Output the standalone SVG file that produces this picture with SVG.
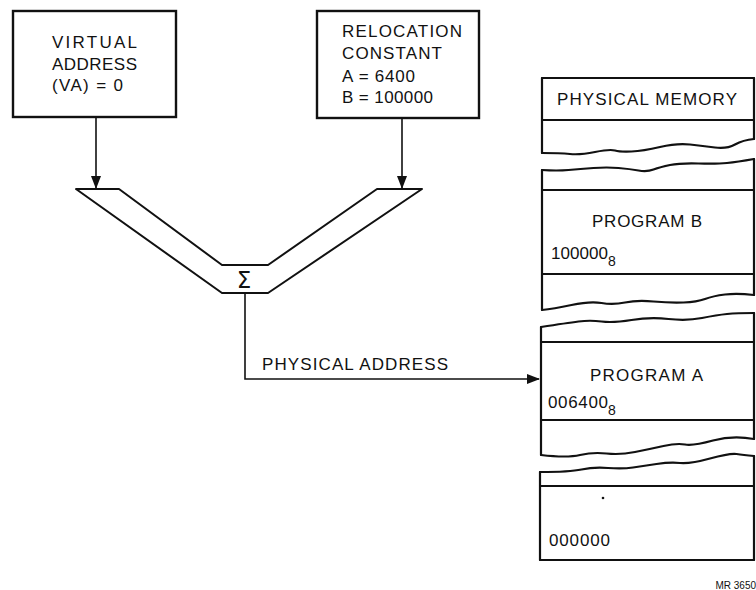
<svg xmlns="http://www.w3.org/2000/svg" width="756" height="590" viewBox="0 0 756 590">
<defs>
<style>
.t{font-family:"Liberation Sans",Arial,Helvetica,sans-serif;font-size:17px;fill:#111}
.s{font-family:"Liberation Sans",Arial,Helvetica,sans-serif;font-size:14px;fill:#111}
.box{fill:#fff;stroke:#111;stroke-width:2.4}
.ln{fill:none;stroke:#111;stroke-width:2;stroke-linejoin:round;stroke-linecap:round}
.w{fill:none;stroke:#111;stroke-width:2.2;stroke-linejoin:round;stroke-linecap:round}
.c{fill:none;stroke:#111;stroke-width:1.6}
</style>
<marker id="ah" markerWidth="13" markerHeight="10" refX="12" refY="5" orient="auto" markerUnits="userSpaceOnUse">
<path d="M0,0 L13,5 L0,10 Z" fill="#111"/>
</marker>
</defs>
<rect width="756" height="590" fill="#fff"/>

<g id="va">
<rect class="box" x="13" y="11" width="163" height="106"/>
<text class="t" x="52" y="48" textLength="85" lengthAdjust="spacing">VIRTUAL</text>
<text class="t" x="52" y="70" textLength="85" lengthAdjust="spacing">ADDRESS</text>
<text class="t" x="52" y="91" textLength="71" lengthAdjust="spacing">(VA) = 0</text>
</g>

<g id="reloc">
<rect class="box" x="317" y="11" width="162" height="107"/>
<text class="t" x="342" y="37" textLength="120" lengthAdjust="spacing">RELOCATION</text>
<text class="t" x="342" y="59" textLength="100" lengthAdjust="spacing">CONSTANT</text>
<text class="t" x="342" y="82" textLength="73" lengthAdjust="spacing">A = 6400</text>
<text class="t" x="342" y="103" textLength="91" lengthAdjust="spacing">B = 100000</text>
</g>

<g id="adder">
<path class="ln" d="M76,189 L119,189 L222,265 L268,265 L377,189 L422,189 L268,293 L222,293 Z" fill="#fff"/>
<text x="244" y="288" text-anchor="middle" style="font-family:'DejaVu Sans',sans-serif;font-size:23px;fill:#111">Σ</text>
</g>

<g id="memory">
<line class="w" x1="542" y1="78" x2="754" y2="78"/>
<line class="w" x1="542" y1="78" x2="542" y2="153"/>
<line class="w" x1="754" y1="78" x2="754" y2="139"/>
<line class="w" x1="542" y1="120" x2="754" y2="120"/>
<text class="t" x="557" y="105" textLength="180" lengthAdjust="spacing">PHYSICAL MEMORY</text>
<path class="w" d="M542,153 Q560,153 570,154 Q580,155 595,152 Q610,149 615,150.5 Q620,152 631.5,151.5 Q643,151 660,147 Q677,143 690,144.5 Q703,146 715,147.5 Q727,149 735,144.5 Q743,140 754,139"/>

<path class="w" d="M542,170 Q557,171 568.5,170 Q580,169 593.5,168 Q607,167 618.5,168 Q630,169 638.5,170.5 Q647,172 653.5,169.5 Q660,167 670,165 Q680,163 698.5,163.5 Q717,164 727,163 Q737,162 754,159"/>
<line class="w" x1="542" y1="170" x2="542" y2="310"/>
<line class="w" x1="754" y1="159" x2="754" y2="295"/>
<line class="w" x1="542" y1="190" x2="754" y2="190"/>
<line class="w" x1="542" y1="274" x2="754" y2="274"/>
<text class="t" x="592" y="227" textLength="110" lengthAdjust="spacing">PROGRAM B</text>
<text class="t" x="551" y="259" textLength="57" lengthAdjust="spacing">100000</text>
<text class="s" x="608" y="266">8</text>
<path class="w" d="M542,310 Q553,309 571.5,305 Q590,301 601.5,303 Q613,305 625,302.5 Q637,300 653.5,301.5 Q670,303 683.5,302.5 Q697,302 705,299 Q713,296 725,294.5 Q737,293 754,295"/>

<path class="w" d="M541,327 Q567,323 578.5,321.5 Q590,320 601.5,321.5 Q613,323 631.5,320 Q650,317 668.5,319 Q687,321 702,318 Q717,315 727,314 Q737,313 754,313"/>
<line class="w" x1="541" y1="327" x2="541" y2="455"/>
<line class="w" x1="754" y1="313" x2="754" y2="439"/>
<line class="w" x1="541" y1="342" x2="754" y2="342"/>
<line class="w" x1="541" y1="420" x2="754" y2="420"/>
<text class="t" x="590" y="381" textLength="113" lengthAdjust="spacing">PROGRAM A</text>
<text class="t" x="548" y="408" textLength="60" lengthAdjust="spacing">006400</text>
<text class="s" x="608" y="415">8</text>
<path class="w" d="M541,455 Q567,458 580,455 Q593,452 606.5,453.5 Q620,455 635,452 Q650,449 663.5,446 Q677,443 685,444.5 Q693,446 713,440.5 Q733,435 754,439"/>

<path class="w" d="M540,472 Q570,472 581.5,469.5 Q593,467 608,468 Q623,469 633,467.5 Q643,466 656.5,464 Q670,462 680,463 Q690,464 710,458.5 Q730,453 736.5,454 Q743,455 754,456"/>
<line class="w" x1="540" y1="472" x2="540" y2="560"/>
<line class="w" x1="754" y1="456" x2="754" y2="560"/>
<line class="w" x1="540" y1="560" x2="754" y2="560"/>
<line class="w" x1="540" y1="486" x2="754" y2="486"/>
<circle cx="603" cy="498" r="1.3" fill="#111"/>
<text class="t" x="549" y="546" textLength="61" lengthAdjust="spacing">000000</text>
</g>

<g id="connectors">
<line class="c" x1="96" y1="117" x2="96" y2="188" marker-end="url(#ah)"/>
<line class="c" x1="402" y1="118" x2="402" y2="188" marker-end="url(#ah)"/>
<polyline class="c" points="245,293 245,379 539,379" marker-end="url(#ah)"/>
<text class="t" x="262" y="370" textLength="186" lengthAdjust="spacing">PHYSICAL ADDRESS</text>
</g>

<text x="756" y="589" text-anchor="end" style="font-family:'Liberation Sans',Arial,sans-serif;font-size:10px;fill:#111">MR 3650</text>
</svg>
